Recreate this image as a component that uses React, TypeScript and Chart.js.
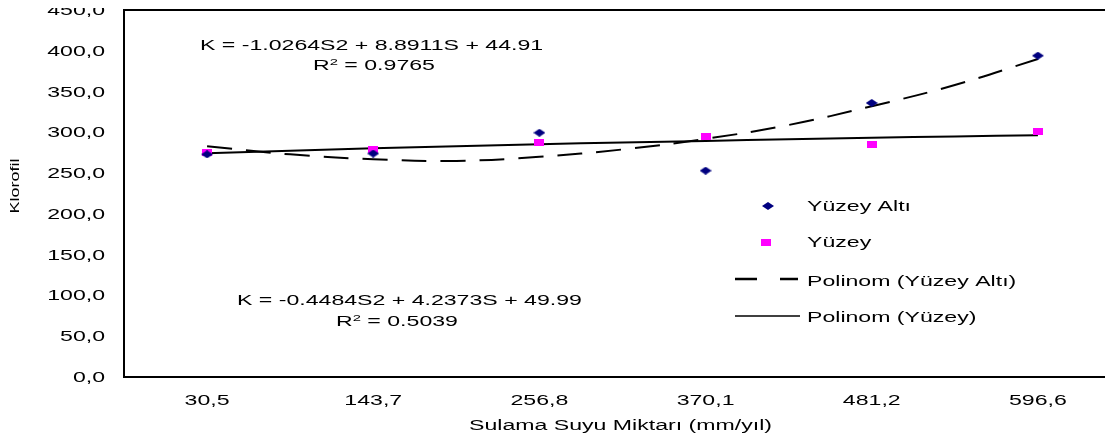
import React, { useEffect, useRef } from 'react';
import { Chart, registerables } from 'chart.js';

Chart.register(...registerables);

const categories = ['30,5', '143,7', '256,8', '370,1', '481,2', '596,6'];
const categoryPositions = [1, 2, 3, 4, 5, 6];
const yuzeyAlti = [273, 274, 299.5, 253, 336, 394];
const yuzey = [275.5, 279, 288, 294.5, 284.5, 300.5];
const trendPositions = [1, 1.5, 2, 2.5, 3, 3.5, 4, 4.5, 5, 5.5, 6];
const trendYuzeyAlti = [283, 273, 267, 265, 270, 279, 292, 309, 332, 358, 390];
const trendYuzey = [274.5, 277.5, 280.5, 283, 285.5, 287.5, 289.5, 291.5, 293.5, 295, 296.5];
const yTickValues = [0, 50, 100, 150, 200, 250, 300, 350, 400, 450];
const seriesLabels = ['Yüzey Altı', 'Yüzey', 'Polinom (Yüzey Altı)', 'Polinom (Yüzey)'];
const xTitle = 'Sulama Suyu Miktarı (mm/yıl)';
const yTitle = 'Klorofil';
const eqAlti = 'K = -1.0264S2 + 8.8911S + 44.91';
const r2Alti = ['R', '2', ' = 0.9765'];
const eqYuzey = 'K = -0.4484S2 + 4.2373S + 49.99';
const r2Yuzey = ['R', '2', ' = 0.5039'];

const FONT = '"Liberation Sans", Arial, sans-serif';
const SX = 1.65;
const NAVY = '#000080';
const MAGENTA = '#FF00FF';

function makeDiamond(): HTMLCanvasElement {
  const c = document.createElement('canvas');
  c.width = 12; c.height = 8;
  const g = c.getContext('2d')!;
  g.fillStyle = NAVY;
  g.beginPath();
  g.moveTo(6, 0); g.lineTo(12, 4); g.lineTo(6, 8); g.lineTo(0, 4); g.closePath();
  g.fill();
  return c;
}
function makeSquare(): HTMLCanvasElement {
  const c = document.createElement('canvas');
  c.width = 10; c.height = 7;
  const g = c.getContext('2d')!;
  g.fillStyle = MAGENTA;
  g.fillRect(0, 0, 10, 7);
  return c;
}

function sText(ctx: CanvasRenderingContext2D, text: string, x: number, y: number, align: CanvasTextAlign, size = 14, sx = SX) {
  ctx.save();
  ctx.font = `${size}px ${FONT}`;
  ctx.textAlign = align;
  ctx.textBaseline = 'alphabetic';
  ctx.fillStyle = '#000';
  ctx.translate(x, y);
  ctx.scale(sx, 1);
  ctx.fillText(text, 0, 0);
  ctx.restore();
}
function textW(ctx: CanvasRenderingContext2D, text: string, size: number) {
  ctx.save();
  ctx.font = `${size}px ${FONT}`;
  const w = ctx.measureText(text).width * SX;
  ctx.restore();
  return w;
}
function r2Text(ctx: CanvasRenderingContext2D, parts: string[], x: number, y: number) {
  sText(ctx, parts[0], x, y, 'left', 14);
  const w0 = textW(ctx, parts[0], 14);
  sText(ctx, parts[1], x + w0, y - 5, 'left', 9);
  const w1 = textW(ctx, parts[1], 9);
  sText(ctx, parts[2], x + w0 + w1, y, 'left', 14);
}

export default function App() {
  const ref = useRef<HTMLCanvasElement>(null);
  useEffect(() => {
    const diamond = makeDiamond();
    const square = makeSquare();
    const overlay = {
      id: 'overlay',
      afterDraw(chart: any) {
        const ctx: CanvasRenderingContext2D = chart.ctx;
        const area = chart.chartArea;
        const xs = chart.scales.x;
        const ys = chart.scales.y;
        ctx.save();
        // top border
        ctx.strokeStyle = '#000';
        ctx.lineWidth = 2;
        ctx.beginPath();
        ctx.moveTo(area.left - 1, area.top);
        ctx.lineTo(area.right, area.top);
        ctx.stroke();
        // y tick labels
        yTickValues.forEach((v) => {
          const y = ys.getPixelForValue(v);
          sText(ctx, v.toFixed(1).replace('.', ','), 97, y + 5, 'right');
        });
        // x tick labels
        categories.forEach((c, i) => {
          const x = xs.getPixelForValue(categoryPositions[i]);
          sText(ctx, c, x, 404.5, 'center');
        });
        // axis titles
        sText(ctx, xTitle, (area.left + area.right) / 2 - 2, 430, 'center');
        ctx.save();
        ctx.translate(11, 186);
        ctx.rotate(-Math.PI / 2);
        sText(ctx, yTitle, 0, 0, 'center', 12, 1.5);
        ctx.restore();
        // equations
        sText(ctx, eqAlti, 192, 49.5, 'left');
        r2Text(ctx, r2Alti, 305, 69.5);
        sText(ctx, eqYuzey, 229, 305, 'left');
        r2Text(ctx, r2Yuzey, 328, 326);
        // legend
        ctx.drawImage(diamond, 760 - 6, 206 - 4);
        ctx.drawImage(square, 758 - 5, 242 - 3.5);
        ctx.strokeStyle = '#000';
        ctx.lineWidth = 2.5;
        ctx.beginPath();
        ctx.moveTo(727, 279); ctx.lineTo(749, 279);
        ctx.moveTo(772, 279); ctx.lineTo(790, 279);
        ctx.stroke();
        ctx.lineWidth = 1.5;
        ctx.beginPath();
        ctx.moveTo(727, 316); ctx.lineTo(792, 316);
        ctx.stroke();
        sText(ctx, seriesLabels[0], 799, 210.5, 'left');
        sText(ctx, seriesLabels[1], 799, 247, 'left');
        sText(ctx, seriesLabels[2], 799, 285.5, 'left');
        sText(ctx, seriesLabels[3], 799, 321.5, 'left');
        ctx.restore();
      },
    };
    const chart = new Chart(ref.current!, {
      type: 'scatter',
      data: {
        datasets: [
          {
            label: seriesLabels[0],
            data: categoryPositions.map((x, i) => ({ x, y: yuzeyAlti[i] })),
            pointStyle: diamond as any,
            showLine: false,
            order: 0,
          },
          {
            label: seriesLabels[1],
            data: categoryPositions.map((x, i) => ({ x, y: yuzey[i] })),
            pointStyle: square as any,
            showLine: false,
            order: 0,
          },
          {
            label: seriesLabels[2],
            data: trendPositions.map((x, i) => ({ x, y: trendYuzeyAlti[i] })),
            showLine: true,
            borderColor: '#000',
            borderWidth: 2,
            borderDash: [25, 14],
            pointRadius: 0,
            tension: 0.4,
            fill: false,
            order: 1,
          },
          {
            label: seriesLabels[3],
            data: trendPositions.map((x, i) => ({ x, y: trendYuzey[i] })),
            showLine: true,
            borderColor: '#000',
            borderWidth: 2,
            pointRadius: 0,
            tension: 0.4,
            fill: false,
            order: 1,
          },
        ],
      },
      options: {
        animation: false,
        responsive: true,
        maintainAspectRatio: false,
        layout: { autoPadding: false, padding: { top: 10, left: 0, right: 0, bottom: 0 } },
        plugins: { legend: { display: false }, tooltip: { enabled: false } },
        scales: {
          x: {
            type: 'linear',
            min: 0.5,
            max: 6.5,
            grid: { display: false, drawTicks: false },
            border: { display: true, color: '#000', width: 2 },
            ticks: { display: false },
            afterFit: (s: any) => { s.height = 62; },
          },
          y: {
            min: 0,
            max: 450,
            grid: { display: false, drawTicks: false },
            border: { display: true, color: '#000', width: 2 },
            ticks: { display: false, stepSize: 50 },
            afterFit: (s: any) => { s.width = 116; },
          },
        },
      },
      plugins: [overlay],
    });
    return () => chart.destroy();
  }, []);
  return (
    <div style={{ width: 1105, height: 439, marginTop: -8, overflow: 'hidden' }}>
      <div style={{ width: 1113, height: 439, position: 'relative' }}>
        <canvas ref={ref} />
      </div>
    </div>
  );
}
